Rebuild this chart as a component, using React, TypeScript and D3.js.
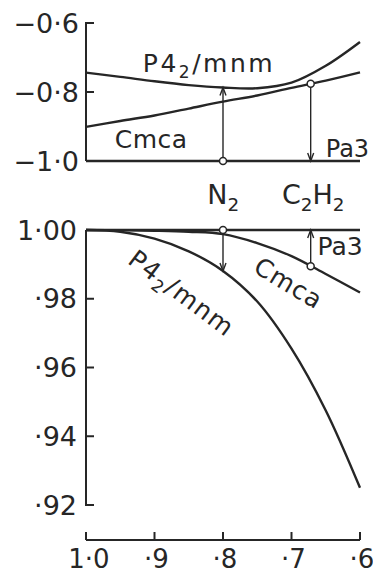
import React from "react";
import * as d3 from "d3";

// pressure ratio (x axis, decreasing to the right)
const xValues = [1.0, 0.95, 0.9, 0.85, 0.8, 0.75, 0.7, 0.65, 0.6];

// upper panel
const upperP42mnm = [-0.744, -0.756, -0.769, -0.78, -0.787, -0.789, -0.773, -0.724, -0.655];
const upperCmca = [-0.901, -0.884, -0.868, -0.848, -0.828, -0.81, -0.788, -0.767, -0.743];
const upperPa3 = [-1, -1, -1, -1, -1, -1, -1, -1, -1];

// lower panel
const lowerP42mnm = [1.0, 0.9995, 0.9975, 0.9938, 0.9881, 0.9792, 0.9655, 0.9475, 0.925];
const lowerCmca = [1.0, 0.99995, 0.9998, 0.9995, 0.9988, 0.9962, 0.9924, 0.9872, 0.9818];
const lowerPa3 = [1, 1, 1, 1, 1, 1, 1, 1, 1];

const xTicks = [1.0, 0.9, 0.8, 0.7, 0.6];
const xTickLabels = ["1·0", "·9", "·8", "·7", "·6"];
const upperTicks = [-0.6, -0.8, -1.0];
const upperTickLabels = ["−0·6", "−0·8", "−1·0"];
const lowerTicks = [1.0, 0.98, 0.96, 0.94, 0.92];
const lowerTickLabels = ["1·00", "·98", "·96", "·94", "·92"];

// molecules marked by the arrows
const n2X = 0.8;
const c2h2X = 0.672;

const INK = "#262626";
const FONT = "DejaVu Sans";

const x = d3.scaleLinear().domain([1.0, 0.6]).range([86, 360]);
const yUp = d3.scaleLinear().domain([-1.0, -0.6]).range([161, 23]);
const yLow = d3.scaleLinear().domain([0.92, 1.0]).range([505, 230]);

const valueAt = (series: number[], v: number) =>
  d3.scaleLinear().domain(xValues).range(series)(v);

const linePath = (series: number[], y: d3.ScaleLinear<number, number>) =>
  d3
    .line<number>()
    .x((_, i) => x(xValues[i]))
    .y((d) => y(d))
    .curve(d3.curveCatmullRom.alpha(0.5))(series) || "";

// arrow from a circle at one value to an arrow tip at another
const Arrow = ({ xv, from, to }: { xv: number; from: number; to: number }) => {
  const px = x(xv);
  const dir = to > from ? 1 : -1;
  return (
    <g>
      <line x1={px} x2={px} y1={from} y2={to} stroke={INK} strokeWidth={1.4} />
      <path
        d={`M${px - 3},${to - dir * 8}L${px},${to}L${px + 3},${to - dir * 8}`}
        fill="none"
        stroke={INK}
        strokeWidth={1.4}
      />
      <circle cx={px} cy={from} r={3.5} fill="#fff" stroke={INK} strokeWidth={1.5} />
    </g>
  );
};

const Formula = ({ main, sub, rest, size }: { main: string; sub: string; rest?: string; size: number }) => (
  <>
    <tspan>{main}</tspan>
    <tspan fontSize={size * 0.68} dy={size * 0.25}>
      {sub}
    </tspan>
    {rest ? <tspan dy={-size * 0.25}>{rest}</tspan> : null}
  </>
);

export default function App() {
  const fs = 25;
  const tfs = 27;
  const curve = { fill: "none", stroke: INK, strokeWidth: 2.4 };
  const axis = { fill: "none", stroke: INK, strokeWidth: 2 };

  const lowerCenterP4 = [x(0.86), yLow(0.9817)];
  const lowerCenterCmca = [x(0.704), yLow(0.9846)];

  return (
    <svg
      width={373}
      height={576}
      style={{ position: "absolute", left: 0, top: 0, background: "#fff" }}
      fontFamily={FONT}
      fill={INK}
    >
      {/* upper panel axis */}
      <path d={`M${x(1) + 8},${yUp(-0.6)}H${x(1)}V${yUp(-1)}`} {...axis} />
      {upperTicks.map((t, i) => (
        <g key={t}>
          {t === -0.8 && <line x1={x(1)} x2={x(1) + 8} y1={yUp(t)} y2={yUp(t)} stroke={INK} strokeWidth={2} />}
          <text x={x(1) - 7} y={yUp(t)} dy="0.36em" textAnchor="end" fontSize={tfs}>
            {upperTickLabels[i]}
          </text>
        </g>
      ))}

      <path d={linePath(upperPa3, yUp)} {...curve} />
      <path d={linePath(upperCmca, yUp)} {...curve} />
      <path d={linePath(upperP42mnm, yUp)} {...curve} />

      <Arrow xv={n2X} from={yUp(valueAt(upperPa3, n2X))} to={yUp(valueAt(upperP42mnm, n2X))} />
      <Arrow xv={c2h2X} from={yUp(valueAt(upperCmca, c2h2X))} to={yUp(valueAt(upperPa3, c2h2X))} />

      <text x={x(0.917)} y={yUp(-0.742)} fontSize={fs} letterSpacing={2.5}>
        <Formula main="P4" sub="2" rest="/mnm" size={fs} />
      </text>
      <text x={x(0.958)} y={yUp(-0.962)} fontSize={fs} letterSpacing={0.5}>
        Cmca
      </text>
      <text x={x(0.65)} y={yUp(-0.988)} fontSize={24}>
        Pa3
      </text>

      {/* molecule labels */}
      <text x={x(0.823)} y={204} fontSize={27}>
        <Formula main="N" sub="2" size={27} />
      </text>
      <text x={x(0.714)} y={204} fontSize={27}>
        <Formula main="C" sub="2" rest="H" size={27} />
        <tspan fontSize={27 * 0.68} dy={27 * 0.25}>
          2
        </tspan>
      </text>

      {/* lower panel axis */}
      <path d={`M${x(1)},${yLow(1)}V${yLow(0.92)}H${x(1) + 8}`} {...axis} />
      {lowerTicks.map((t, i) => (
        <g key={t}>
          {t < 1 && t > 0.92 && (
            <line x1={x(1)} x2={x(1) + 8} y1={yLow(t)} y2={yLow(t)} stroke={INK} strokeWidth={2} />
          )}
          <text x={x(1) - 9} y={yLow(t)} dy="0.36em" textAnchor="end" fontSize={tfs}>
            {lowerTickLabels[i]}
          </text>
        </g>
      ))}

      <path d={linePath(lowerPa3, yLow)} {...curve} />
      <path d={linePath(lowerCmca, yLow)} {...curve} />
      <path d={linePath(lowerP42mnm, yLow)} {...curve} />

      <Arrow xv={n2X} from={yLow(valueAt(lowerPa3, n2X))} to={yLow(valueAt(lowerP42mnm, n2X))} />
      <Arrow xv={c2h2X} from={yLow(valueAt(lowerCmca, c2h2X))} to={yLow(valueAt(lowerPa3, c2h2X))} />

      <text x={x(0.662)} y={yLow(0.9927)} fontSize={fs}>
        Pa3
      </text>
      <text
        transform={`translate(${lowerCenterCmca[0]},${lowerCenterCmca[1]}) rotate(31)`}
        textAnchor="middle"
        dy="0.36em"
        fontSize={fs}
        letterSpacing={1}
      >
        Cmca
      </text>
      <text
        transform={`translate(${lowerCenterP4[0]},${lowerCenterP4[1]}) rotate(37)`}
        textAnchor="middle"
        dy="0.36em"
        fontSize={fs}
        letterSpacing={1.5}
      >
        <Formula main="P4" sub="2" rest="/mnm" size={fs} />
      </text>

      {/* x axis */}
      <line x1={x(1)} x2={x(0.6)} y1={540} y2={540} stroke={INK} strokeWidth={2} />
      {xTicks.map((t, i) => (
        <g key={t}>
          <line x1={x(t)} x2={x(t)} y1={532} y2={540} stroke={INK} strokeWidth={2} />
          <text x={x(t) + (i === 0 ? 3 : 2)} y={568} textAnchor="middle" fontSize={26}>
            {xTickLabels[i]}
          </text>
        </g>
      ))}
    </svg>
  );
}
